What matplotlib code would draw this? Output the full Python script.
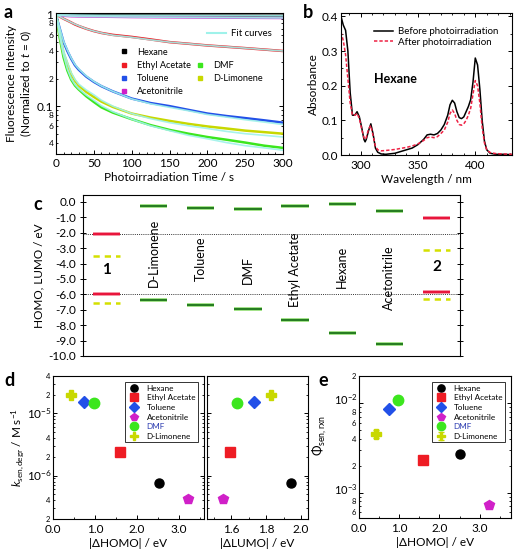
import numpy as np
import matplotlib
matplotlib.use('Agg')
import matplotlib.pyplot as plt
from matplotlib.ticker import LogLocator, FuncFormatter, MultipleLocator, NullFormatter, NullLocator
from matplotlib.lines import Line2D
from matplotlib.transforms import ScaledTranslation

plt.rcParams['font.family'] = ['Lato', 'DejaVu Sans']
plt.rcParams['mathtext.fontset'] = 'custom'
plt.rcParams['mathtext.rm'] = 'Lato'
plt.rcParams['mathtext.it'] = 'Lato:italic'
plt.rcParams['mathtext.bf'] = 'Lato:bold'
plt.rcParams['xtick.direction'] = 'in'
plt.rcParams['ytick.direction'] = 'in'
plt.rcParams['axes.linewidth'] = 0.8
plt.rcParams['xtick.major.size'] = 3
plt.rcParams['ytick.major.size'] = 3
plt.rcParams['xtick.minor.size'] = 1.6
plt.rcParams['ytick.minor.size'] = 1.6
plt.rcParams['xtick.major.width'] = 0.7
plt.rcParams['ytick.major.width'] = 0.7

# ---------------- data: panel a ----------------
solvent_names = ['Hexane', 'Ethyl Acetate', 'Toluene', 'Acetonitrile', 'DMF', 'D-Limonene']
solvent_colors = ['#000000', '#ee1c24', '#2250e8', '#d020c8', '#3ce61e', '#c8d800']

time_s = [0, 2, 5, 10, 15, 20, 25, 30, 40, 50, 60, 75, 100, 125, 150, 175, 200, 225, 250, 275, 300]
fl_hexane = [1.0, 1.0, 0.998, 0.995, 0.993, 0.99, 0.99, 0.988, 0.986, 0.984, 0.982, 0.98, 0.978,
             0.976, 0.975, 0.974, 0.973, 0.972, 0.971, 0.97, 0.97]
fl_ethyl_acetate = [1.0, 0.98, 0.95, 0.90, 0.86, 0.82, 0.78, 0.75, 0.70, 0.66, 0.63, 0.60, 0.57,
                    0.535, 0.50, 0.48, 0.46, 0.445, 0.43, 0.415, 0.40]
fl_toluene = [1.0, 0.86, 0.70, 0.50, 0.40, 0.33, 0.28, 0.25, 0.21, 0.184, 0.165, 0.145, 0.121,
              0.108, 0.100, 0.091, 0.083, 0.078, 0.074, 0.070, 0.066]
fl_acetonitrile = [1.0, 0.99, 0.98, 0.97, 0.965, 0.96, 0.958, 0.955, 0.952, 0.95, 0.948, 0.945, 0.94,
                   0.937, 0.934, 0.931, 0.928, 0.925, 0.922, 0.92, 0.918]
fl_dmf = [1.0, 0.78, 0.55, 0.34, 0.245, 0.195, 0.168, 0.152, 0.128, 0.111, 0.097, 0.085, 0.072,
          0.062, 0.055, 0.050, 0.046, 0.043, 0.040, 0.037, 0.035]
fl_limonene = [1.0, 0.82, 0.60, 0.38, 0.29, 0.225, 0.19, 0.168, 0.143, 0.126, 0.112, 0.098, 0.083,
               0.075, 0.069, 0.064, 0.060, 0.057, 0.054, 0.052, 0.050]
fl_data = [fl_hexane, fl_ethyl_acetate, fl_toluene, fl_acetonitrile, fl_dmf, fl_limonene]

fit_hexane = [1.0, 0.999, 0.997, 0.995, 0.993, 0.991, 0.99, 0.988, 0.986, 0.984, 0.982, 0.98, 0.978,
              0.976, 0.975, 0.974, 0.973, 0.972, 0.971, 0.97, 0.969]
fit_ethyl_acetate = [1.0, 0.98, 0.95, 0.90, 0.86, 0.82, 0.785, 0.755, 0.70, 0.66, 0.63, 0.595, 0.565,
                     0.53, 0.50, 0.48, 0.46, 0.445, 0.43, 0.415, 0.40]
fit_toluene = [1.0, 0.87, 0.71, 0.51, 0.41, 0.335, 0.285, 0.255, 0.213, 0.186, 0.166, 0.145, 0.12,
               0.106, 0.097, 0.089, 0.081, 0.076, 0.071, 0.067, 0.063]
fit_acetonitrile = [1.0, 0.99, 0.98, 0.97, 0.965, 0.96, 0.958, 0.955, 0.952, 0.95, 0.948, 0.945, 0.94,
                    0.937, 0.934, 0.931, 0.928, 0.925, 0.922, 0.92, 0.918]
fit_dmf = [1.0, 0.80, 0.57, 0.36, 0.255, 0.20, 0.172, 0.155, 0.132, 0.116, 0.101, 0.087, 0.072,
           0.061, 0.054, 0.048, 0.044, 0.040, 0.037, 0.035, 0.033]
fit_limonene = [1.0, 0.84, 0.63, 0.40, 0.30, 0.232, 0.196, 0.174, 0.150, 0.133, 0.116, 0.100, 0.083,
                0.073, 0.066, 0.061, 0.057, 0.053, 0.050, 0.048, 0.046]
fit_data = [fit_hexane, fit_ethyl_acetate, fit_toluene, fit_acetonitrile, fit_dmf, fit_limonene]

# ---------------- data: panel b ----------------
wavelength = [283, 285, 287, 289, 291, 293, 295, 297, 299, 301, 303, 304, 305, 307, 309, 311, 313, 315,
              318, 322, 330, 340, 345, 350, 355, 358, 361, 364, 367, 370, 373, 376, 378, 380, 382, 384,
              386, 388, 390, 392, 394, 396, 398, 400, 402, 404, 406, 408, 410, 413, 418, 425, 432]
abs_before = [0.40, 0.375, 0.36, 0.30, 0.18, 0.115, 0.115, 0.125, 0.11, 0.08, 0.045, 0.038, 0.045, 0.07,
              0.09, 0.06, 0.02, 0.008, 0.003, 0.002, 0.005, 0.015, 0.02, 0.03, 0.045, 0.058, 0.06, 0.058,
              0.062, 0.072, 0.088, 0.115, 0.145, 0.158, 0.15, 0.125, 0.108, 0.105, 0.11, 0.125, 0.14,
              0.16, 0.21, 0.28, 0.26, 0.19, 0.10, 0.04, 0.015, 0.005, 0.002, 0.002, 0.001]
abs_after = [0.355, 0.33, 0.29, 0.22, 0.15, 0.115, 0.115, 0.12, 0.105, 0.075, 0.05, 0.045, 0.05, 0.075,
             0.085, 0.055, 0.025, 0.015, 0.012, 0.013, 0.016, 0.022, 0.026, 0.032, 0.042, 0.05, 0.052,
             0.05, 0.053, 0.062, 0.072, 0.095, 0.12, 0.13, 0.12, 0.10, 0.088, 0.086, 0.09, 0.10, 0.115,
             0.135, 0.175, 0.215, 0.20, 0.15, 0.08, 0.035, 0.015, 0.007, 0.004, 0.003, 0.002]

# ---------------- data: panel c ----------------
level_solvents = ['D-Limonene', 'Toluene', 'DMF', 'Ethyl Acetate', 'Hexane', 'Acetonitrile']
solv_lumo = [-0.26, -0.37, -0.48, -0.29, -0.15, -0.57]
solv_homo = [-6.38, -6.70, -6.95, -7.66, -8.48, -9.19]
solv_label_y = [-3.3, -3.7, -4.4, -4.4, -4.2, -4.9]
mol_names = ['1', '2']
mol_lumo_red = [-2.08, -1.07]
mol_homo_red = [-5.98, -5.87]
mol_lumo_yel = [-3.51, -3.14]
mol_homo_yel = [-6.57, -6.27]
mol_label_y = [-4.4, -4.2]

# ---------------- data: panels d, e ----------------
d_homo = [2.52, 1.59, 0.75, 3.23, 0.98, 0.42]
d_lumo = [1.94, 1.59, 1.73, 1.55, 1.63, 1.83]
k_sen = [7.5e-7, 2.4e-6, 1.53e-5, 4.2e-7, 1.46e-5, 1.95e-5]
phi_sen = [2.69e-3, 2.28e-3, 8.6e-3, 7.3e-4, 1.09e-2, 4.5e-3]
phi_err = [0, 0, 0, 0, 0, 0.45e-3]
markers = ['o', 's', 'D', 'p', 'o', 'P']
msizes = [6.5, 6.5, 6, 7, 7.5, 7.5]

W, H = 514, 553
fig = plt.figure(figsize=(W / 100, H / 100), dpi=100)

def ax_px(l, t, r, b):
    return fig.add_axes([l / W, 1 - b / H, (r - l) / W, (b - t) / H])

def minor_label(keep):
    def f(v, pos):
        if v <= 0:
            return ''
        e = np.floor(np.log10(v) + 1e-9)
        m = int(round(v / 10 ** e))
        return str(m) if m in keep else ''
    return f

def raise_major_labels(ax, pts):
    for tk in ax.yaxis.get_major_ticks():
        tk.label1.set_transform(tk.label1.get_transform() +
                                ScaledTranslation(0, pts / 72, fig.dpi_scale_trans))

# ================= panel a =================
axa = ax_px(56, 13, 283, 154)
for y, col in zip(fl_data, solvent_colors):
    axa.plot(time_s, y, color=col, lw=1.8, solid_capstyle='butt')
for y in fit_data:
    axa.plot(time_s, y, color='#9ff2ea', lw=1.2, alpha=0.9)
axa.set_yscale('log')
axa.set_xlim(0, 300)
axa.set_ylim(0.03, 1.04)
axa.xaxis.set_major_locator(MultipleLocator(50))
axa.xaxis.set_minor_locator(MultipleLocator(10))
axa.yaxis.set_major_locator(LogLocator(base=10, subs=(1.0,)))
axa.yaxis.set_minor_locator(LogLocator(base=10, subs=np.arange(2, 10)))
axa.yaxis.set_major_formatter(FuncFormatter(lambda v, p: '1' if abs(v - 1) < 1e-6 else ('0.1' if abs(v - 0.1) < 1e-9 else '')))
axa.yaxis.set_minor_formatter(FuncFormatter(minor_label((2, 4, 6, 8))))
axa.tick_params(axis='y', which='major', labelsize=8.5, pad=2)
axa.tick_params(axis='y', which='minor', labelsize=6, pad=2)
axa.tick_params(axis='x', labelsize=8.5, pad=3)
axa.tick_params(which='both', right=True, top=False)
axa.set_xlabel('Photoirradiation Time / s', fontsize=8.5, labelpad=2)
axa.set_ylabel('Fluorescence Intensity\n(Normalized to $t$ = 0)', fontsize=8.5, labelpad=2, linespacing=1.1)

blank = Line2D([], [], linestyle='none', marker='none')
hs = [Line2D([], [], linestyle='none', marker='s', ms=3.5, color=c) for c in solvent_colors]
leg_handles = [hs[0], hs[1], hs[2], hs[3], blank, hs[4], hs[5], blank]
leg_labels = [solvent_names[0], solvent_names[1], solvent_names[2], solvent_names[3], '',
              solvent_names[4], solvent_names[5], '']
leg1 = axa.legend(leg_handles, leg_labels, ncol=2, loc='upper left', bbox_to_anchor=(0.255, 0.8),
                  frameon=False, fontsize=6.6, handlelength=0.8, handletextpad=1.0,
                  columnspacing=0.6, labelspacing=0.45, borderpad=0.2)
axa.add_artist(leg1)
axa.legend([Line2D([], [], color='#9ff2ea', lw=1.5)], ['Fit curves'], loc='upper right',
           bbox_to_anchor=(0.98, 0.93), frameon=False, fontsize=6.8, handlelength=2.0,
           handletextpad=0.5, borderpad=0.2)

# ================= panel b =================
axb = ax_px(341, 13, 512, 155)
axb.plot(wavelength, abs_before, color='black', lw=1.1, label='Before photoirradiation')
axb.plot(wavelength, abs_after, color='#ee2244', lw=1.1, ls=(0, (2.2, 1.3)), label='After photoirradiation')
axb.set_xlim(283, 432)
axb.set_ylim(0, 0.41)
axb.xaxis.set_major_locator(MultipleLocator(50))
axb.xaxis.set_minor_locator(MultipleLocator(10))
axb.yaxis.set_major_locator(MultipleLocator(0.1))
axb.yaxis.set_minor_locator(MultipleLocator(0.05))
axb.yaxis.set_major_formatter(FuncFormatter(lambda v, p: f'{v:.1f}'))
axb.tick_params(which='both', right=True, top=True, labelsize=8.5)
axb.tick_params(axis='y', pad=2)
axb.set_xlabel('Wavelength / nm', fontsize=8.5, labelpad=2)
axb.set_ylabel('Absorbance', fontsize=8.5, labelpad=2)
axb.legend(loc='upper right', bbox_to_anchor=(0.96, 0.95), frameon=False, fontsize=7,
           handlelength=2.0, handletextpad=0.5, labelspacing=0.2, borderpad=0.2)
axb.text(330, 0.22, 'Hexane', fontsize=9, fontweight='bold', ha='center', va='center')

# ================= panel c =================
axc = ax_px(83, 195, 460, 356)
hw = 0.29
for i, (lu, ho, ly, nm) in enumerate(zip(solv_lumo, solv_homo, solv_label_y, level_solvents)):
    x = i + 1
    for yv in (lu, ho):
        axc.plot([x - hw, x + hw], [yv, yv], color='#8fdc70', lw=2.6, solid_capstyle='butt')
        axc.plot([x - hw, x + hw], [yv, yv], color='#136a13', lw=1.2, solid_capstyle='butt')
    axc.text(x, ly, nm, rotation=90, ha='center', va='center', fontsize=9)
for j, x in enumerate([0, 7]):
    for yv in (mol_lumo_red[j], mol_homo_red[j]):
        axc.plot([x - hw, x + hw], [yv, yv], color='#f7a0b0', lw=2.8, solid_capstyle='butt')
        axc.plot([x - hw, x + hw], [yv, yv], color='#e8163c', lw=1.6, solid_capstyle='butt')
    for yv in (mol_lumo_yel[j], mol_homo_yel[j]):
        axc.plot([x - hw, x + hw], [yv, yv], color='#d4e000', lw=1.8, ls=(0, (2.5, 2.0)))
    axc.text(x, mol_label_y[j], mol_names[j], ha='center', va='center', fontsize=11, fontweight='bold')
axc.axhline(mol_lumo_red[0], color='#333333', lw=0.7, ls=(0, (1, 1.2)), zorder=0)
axc.axhline(mol_homo_red[0], color='#333333', lw=0.7, ls=(0, (1, 1.2)), zorder=0)
axc.set_xlim(-0.5, 7.5)
axc.set_ylim(-10.0, 0.45)
axc.yaxis.set_major_locator(MultipleLocator(1.0))
axc.yaxis.set_major_formatter(FuncFormatter(lambda v, p: f'{v:.1f}' if abs(v) > 1e-9 else '0.0'))
axc.xaxis.set_major_locator(NullLocator())
axc.tick_params(axis='y', which='both', left=True, right=True, labelsize=8.5, pad=3, direction='inout', length=4)
axc.set_ylabel('HOMO, LUMO / eV', fontsize=8.5, labelpad=3)

# ================= panel d =================
axd1 = ax_px(53, 376, 204, 519)
axd2 = ax_px(207, 376, 308, 519)
for i in range(6):
    axd1.plot(d_homo[i], k_sen[i], marker=markers[i], ms=msizes[i], color=solvent_colors[i],
              linestyle='none', label=solvent_names[i], mec=solvent_colors[i])
    axd2.plot(d_lumo[i], k_sen[i], marker=markers[i], ms=msizes[i], color=solvent_colors[i],
              linestyle='none', mec=solvent_colors[i])
for ax in (axd1, axd2):
    ax.set_yscale('log')
    ax.set_ylim(2e-7, 4e-5)
    ax.yaxis.set_major_locator(LogLocator(base=10, subs=(1.0,)))
    ax.yaxis.set_minor_locator(LogLocator(base=10, subs=np.arange(2, 10)))
    ax.tick_params(which='both', right=True, top=False, labelsize=8.5)
axd1.set_xlim(0, 3.6)
axd1.xaxis.set_major_locator(MultipleLocator(1.0))
axd1.xaxis.set_minor_locator(MultipleLocator(0.5))
axd1.xaxis.set_major_formatter(FuncFormatter(lambda v, p: f'{v:.1f}'))
axd1.yaxis.set_major_formatter(FuncFormatter(lambda v, p: '$10^{%d}$' % int(round(np.log10(v)))))
axd1.yaxis.set_minor_formatter(FuncFormatter(minor_label((2, 4))))
axd1.tick_params(axis='y', which='major', labelsize=8.5, pad=1)
axd1.tick_params(axis='y', which='minor', labelsize=5.5, pad=2)
axd2.set_xlim(1.46, 2.04)
axd2.xaxis.set_major_locator(MultipleLocator(0.2))
axd2.xaxis.set_minor_locator(MultipleLocator(0.1))
axd2.xaxis.set_major_formatter(FuncFormatter(lambda v, p: f'{v:.1f}'))
axd2.yaxis.set_major_formatter(NullFormatter())
axd2.yaxis.set_minor_formatter(NullFormatter())
axd1.set_xlabel('|ΔHOMO| / eV', fontsize=8.5, labelpad=2)
axd2.set_xlabel('|ΔLUMO| / eV', fontsize=8.5, labelpad=2)
axd1.set_ylabel('$k_{\\mathrm{sen,degr}}$ / M s$^{-1}$', fontsize=8.5, labelpad=0)
legd = axd1.legend(loc='upper right', bbox_to_anchor=(0.985, 0.985), fontsize=5.9, frameon=True,
                   fancybox=False, edgecolor='black', handletextpad=0.7, labelspacing=0.32,
                   borderpad=0.3, markerscale=0.8, handlelength=1.6)
legd.get_frame().set_linewidth(0.7)
legd.get_texts()[4].set_color('#2a3ab0')

# ================= panel e =================
axe = ax_px(359, 376, 511, 518)
for i in range(6):
    if phi_err[i] > 0:
        axe.errorbar(d_homo[i], phi_sen[i], yerr=phi_err[i], marker=markers[i], ms=msizes[i],
                     color=solvent_colors[i], linestyle='none', label=solvent_names[i], capsize=2,
                     elinewidth=1.0)
    else:
        axe.plot(d_homo[i], phi_sen[i], marker=markers[i], ms=msizes[i], color=solvent_colors[i],
                 linestyle='none', label=solvent_names[i])
axe.set_yscale('log')
axe.set_ylim(5.2e-4, 2e-2)
axe.set_xlim(0, 3.78)
axe.xaxis.set_major_locator(MultipleLocator(1.0))
axe.xaxis.set_minor_locator(MultipleLocator(0.5))
axe.xaxis.set_major_formatter(FuncFormatter(lambda v, p: f'{v:.1f}'))
axe.yaxis.set_major_locator(LogLocator(base=10, subs=(1.0,)))
axe.yaxis.set_minor_locator(LogLocator(base=10, subs=np.arange(2, 10)))
axe.yaxis.set_major_formatter(FuncFormatter(lambda v, p: '$10^{%d}$' % int(round(np.log10(v)))))
axe.yaxis.set_minor_formatter(FuncFormatter(minor_label((2, 4, 6, 8))))
axe.tick_params(which='both', right=True, labelsize=8.5)
axe.tick_params(axis='y', which='major', labelsize=8, pad=1)
axe.tick_params(axis='y', which='minor', labelsize=5.5, pad=2)
axe.set_xlabel('|ΔHOMO| / eV', fontsize=8.5, labelpad=2)
axe.set_ylabel('Φ$_{\\mathrm{sen,rxn}}$', fontsize=9)
axe.yaxis.set_label_coords(-0.2, 0.58)
lege = axe.legend(loc='upper right', bbox_to_anchor=(0.985, 0.985), fontsize=5.9, frameon=True,
                  fancybox=False, edgecolor='black', handletextpad=0.7, labelspacing=0.32,
                  borderpad=0.3, markerscale=0.8, handlelength=1.6)
lege.get_frame().set_linewidth(0.7)
lege.get_texts()[4].set_color('#2a3ab0')

raise_major_labels(axe, 3.0)
raise_major_labels(axd1, 1.0)

# panel letters
for lbl, x, y in [('a', 4, 12), ('b', 303, 12), ('c', 33, 205), ('d', 4, 380), ('e', 318, 380)]:
    fig.text(x / W, 1 - y / H, lbl, fontsize=13, fontweight='bold', ha='left', va='center')

fig.savefig('out.png', dpi=100)
